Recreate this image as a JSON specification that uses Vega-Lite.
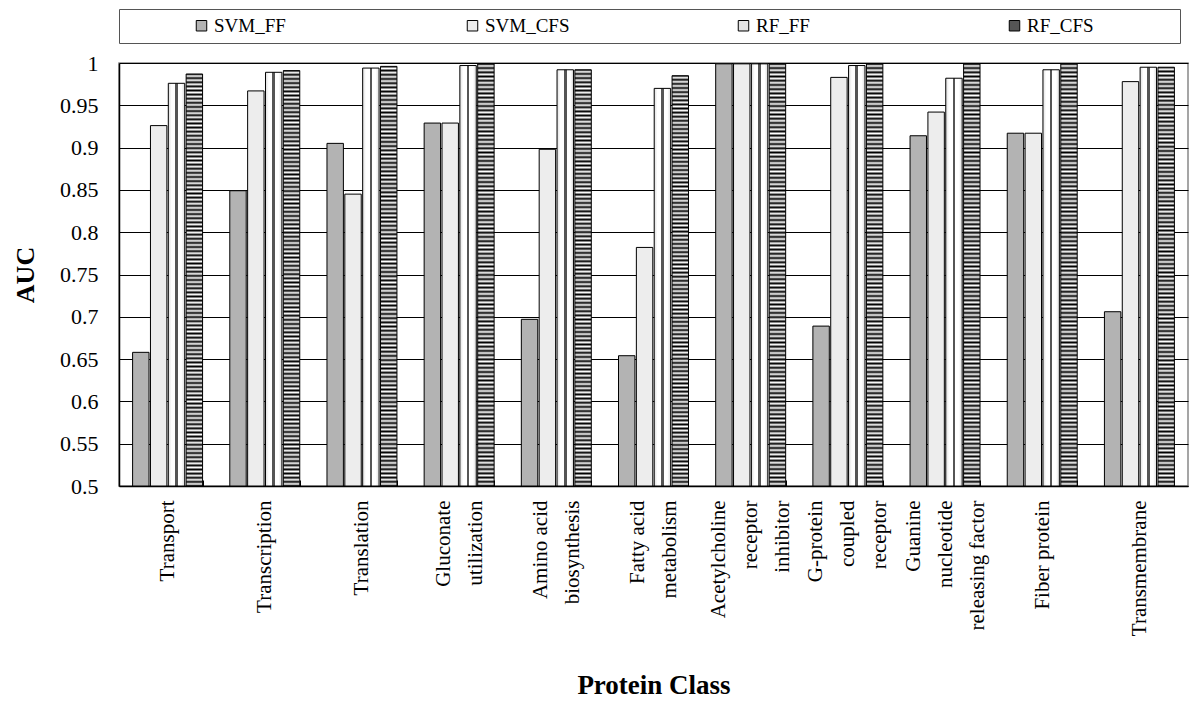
{
  "$schema": "https://vega.github.io/schema/vega-lite/v6.json",
  "width": 1069,
  "height": 423,
  "autosize": {"type": "none"},
  "padding": {"left": 119, "top": 63, "right": 12, "bottom": 219},
  "background": "white",
  "config": {
    "font": "Liberation Serif",
    "view": {"stroke": "#888888", "strokeWidth": 1.5}
  },
  "data": {
    "values": [
      {"cls": "Transport", "method": "SVM_FF", "auc": 0.658},
      {"cls": "Transport", "method": "SVM_CFS", "auc": 0.926},
      {"cls": "Transport", "method": "RF_FF", "auc": 0.976},
      {"cls": "Transport", "method": "RF_CFS", "auc": 0.987},
      {"cls": "Transcription", "method": "SVM_FF", "auc": 0.849},
      {"cls": "Transcription", "method": "SVM_CFS", "auc": 0.967},
      {"cls": "Transcription", "method": "RF_FF", "auc": 0.989},
      {"cls": "Transcription", "method": "RF_CFS", "auc": 0.991},
      {"cls": "Translation", "method": "SVM_FF", "auc": 0.905},
      {"cls": "Translation", "method": "SVM_CFS", "auc": 0.845},
      {"cls": "Translation", "method": "RF_FF", "auc": 0.994},
      {"cls": "Translation", "method": "RF_CFS", "auc": 0.996},
      {"cls": "Gluconate|utilization", "method": "SVM_FF", "auc": 0.929},
      {"cls": "Gluconate|utilization", "method": "SVM_CFS", "auc": 0.929},
      {"cls": "Gluconate|utilization", "method": "RF_FF", "auc": 0.997},
      {"cls": "Gluconate|utilization", "method": "RF_CFS", "auc": 0.999},
      {"cls": "Amino acid|biosynthesis", "method": "SVM_FF", "auc": 0.697},
      {"cls": "Amino acid|biosynthesis", "method": "SVM_CFS", "auc": 0.898},
      {"cls": "Amino acid|biosynthesis", "method": "RF_FF", "auc": 0.992},
      {"cls": "Amino acid|biosynthesis", "method": "RF_CFS", "auc": 0.992},
      {"cls": "Fatty acid|metabolism", "method": "SVM_FF", "auc": 0.654},
      {"cls": "Fatty acid|metabolism", "method": "SVM_CFS", "auc": 0.782},
      {"cls": "Fatty acid|metabolism", "method": "RF_FF", "auc": 0.970},
      {"cls": "Fatty acid|metabolism", "method": "RF_CFS", "auc": 0.985},
      {"cls": "Acetylcholine|receptor|inhibitor", "method": "SVM_FF", "auc": 0.999},
      {"cls": "Acetylcholine|receptor|inhibitor", "method": "SVM_CFS", "auc": 0.999},
      {"cls": "Acetylcholine|receptor|inhibitor", "method": "RF_FF", "auc": 0.999},
      {"cls": "Acetylcholine|receptor|inhibitor", "method": "RF_CFS", "auc": 0.999},
      {"cls": "G-protein|coupled|receptor", "method": "SVM_FF", "auc": 0.689},
      {"cls": "G-protein|coupled|receptor", "method": "SVM_CFS", "auc": 0.983},
      {"cls": "G-protein|coupled|receptor", "method": "RF_FF", "auc": 0.997},
      {"cls": "G-protein|coupled|receptor", "method": "RF_CFS", "auc": 0.999},
      {"cls": "Guanine|nucleotide|releasing factor", "method": "SVM_FF", "auc": 0.914},
      {"cls": "Guanine|nucleotide|releasing factor", "method": "SVM_CFS", "auc": 0.942},
      {"cls": "Guanine|nucleotide|releasing factor", "method": "RF_FF", "auc": 0.982},
      {"cls": "Guanine|nucleotide|releasing factor", "method": "RF_CFS", "auc": 0.999},
      {"cls": "Fiber protein", "method": "SVM_FF", "auc": 0.917},
      {"cls": "Fiber protein", "method": "SVM_CFS", "auc": 0.917},
      {"cls": "Fiber protein", "method": "RF_FF", "auc": 0.992},
      {"cls": "Fiber protein", "method": "RF_CFS", "auc": 0.999},
      {"cls": "Transmembrane", "method": "SVM_FF", "auc": 0.706},
      {"cls": "Transmembrane", "method": "SVM_CFS", "auc": 0.978},
      {"cls": "Transmembrane", "method": "RF_FF", "auc": 0.995},
      {"cls": "Transmembrane", "method": "RF_CFS", "auc": 0.995}
    ]
  },
  "mark": {"type": "bar", "stroke": "black", "strokeWidth": 1},
  "encoding": {
    "x": {
      "field": "cls",
      "type": "nominal",
      "sort": null,
      "scale": {"paddingInner": 0.28, "paddingOuter": 0.14},
      "axis": {
        "title": "Protein Class",
        "titleFontSize": 27,
        "titleFontWeight": "bold",
        "titleColor": "black",
        "titleY": 207,
        "titleBaseline": "alphabetic",
        "labelAngle": -90,
        "labelAlign": "right",
        "labelBaseline": "middle",
        "labelFontSize": 21,
        "labelColor": "black",
        "labelExpr": "split(datum.label, '|')",
        "labelLineHeight": 32,
        "labelLimit": 300,
        "labelPadding": 20,
        "labelOffset": {"expr": "-(length(split(datum.label, '|')) - 1) * 16"},
        "tickBand": "extent",
        "tickSize": -6,
        "tickColor": "black",
        "domainColor": "black",
        "domainWidth": 1.5
      }
    },
    "xOffset": {
      "field": "method",
      "type": "nominal",
      "sort": ["SVM_FF", "SVM_CFS", "RF_FF", "RF_CFS"],
      "scale": {"paddingInner": 0.08}
    },
    "y": {
      "field": "auc",
      "type": "quantitative",
      "scale": {"domain": [0.5, 1]},
      "axis": {
        "title": "AUC",
        "titleFontSize": 26,
        "titleFontWeight": "bold",
        "titleColor": "black",
        "titleAngle": -90,
        "titleX": -94,
        "titleY": 211.5,
        "titleAlign": "center",
        "titleBaseline": "middle",
        "values": [0.5, 0.55, 0.6, 0.65, 0.7, 0.75, 0.8, 0.85, 0.9, 0.95, 1],
        "format": ".2~f",
        "labelFontSize": 22,
        "labelColor": "black",
        "labelPadding": 21,
        "tickSize": 0,
        "domainColor": "black",
        "domainWidth": 1.5,
        "grid": true,
        "gridColor": "black",
        "gridWidth": 1
      }
    },
    "y2": {"datum": 0.5},
    "fill": {
      "condition": [
        {"test": "datum.method === 'RF_FF'", "value": {"gradient": "linear", "x1": 0, "y1": 0, "x2": 1, "y2": 0, "stops": [
          {"offset": 0, "color": "#dddddd"},
          {"offset": 0.2, "color": "#ffffff"},
          {"offset": 0.42, "color": "#ffffff"},
          {"offset": 0.42, "color": "#555555"},
          {"offset": 0.58, "color": "#555555"},
          {"offset": 0.58, "color": "#ffffff"},
          {"offset": 0.8, "color": "#ffffff"},
          {"offset": 1, "color": "#dddddd"}
        ]}},
        {"test": "datum.method === 'RF_CFS'", "value": {"gradient": "linear", "x1": 0, "y1": 0, "x2": 0, "y2": 1, "stops": [
            {"offset":0,"color":"#000"},{"offset":0.005,"color":"#fff"},{"offset":0.01,"color":"#000"},{"offset":0.015,"color":"#fff"},{"offset":0.02,"color":"#000"},{"offset":0.025,"color":"#fff"},{"offset":0.03,"color":"#000"},{"offset":0.035,"color":"#fff"},{"offset":0.04,"color":"#000"},{"offset":0.045,"color":"#fff"},
            {"offset":0.05,"color":"#000"},{"offset":0.055,"color":"#fff"},{"offset":0.06,"color":"#000"},{"offset":0.065,"color":"#fff"},{"offset":0.07,"color":"#000"},{"offset":0.075,"color":"#fff"},{"offset":0.08,"color":"#000"},{"offset":0.085,"color":"#fff"},{"offset":0.09,"color":"#000"},{"offset":0.095,"color":"#fff"},
            {"offset":0.1,"color":"#000"},{"offset":0.105,"color":"#fff"},{"offset":0.11,"color":"#000"},{"offset":0.115,"color":"#fff"},{"offset":0.12,"color":"#000"},{"offset":0.125,"color":"#fff"},{"offset":0.13,"color":"#000"},{"offset":0.135,"color":"#fff"},{"offset":0.14,"color":"#000"},{"offset":0.145,"color":"#fff"},
            {"offset":0.15,"color":"#000"},{"offset":0.155,"color":"#fff"},{"offset":0.16,"color":"#000"},{"offset":0.165,"color":"#fff"},{"offset":0.17,"color":"#000"},{"offset":0.175,"color":"#fff"},{"offset":0.18,"color":"#000"},{"offset":0.185,"color":"#fff"},{"offset":0.19,"color":"#000"},{"offset":0.195,"color":"#fff"},
            {"offset":0.2,"color":"#000"},{"offset":0.205,"color":"#fff"},{"offset":0.21,"color":"#000"},{"offset":0.215,"color":"#fff"},{"offset":0.22,"color":"#000"},{"offset":0.225,"color":"#fff"},{"offset":0.23,"color":"#000"},{"offset":0.235,"color":"#fff"},{"offset":0.24,"color":"#000"},{"offset":0.245,"color":"#fff"},
            {"offset":0.25,"color":"#000"},{"offset":0.255,"color":"#fff"},{"offset":0.26,"color":"#000"},{"offset":0.265,"color":"#fff"},{"offset":0.27,"color":"#000"},{"offset":0.275,"color":"#fff"},{"offset":0.28,"color":"#000"},{"offset":0.285,"color":"#fff"},{"offset":0.29,"color":"#000"},{"offset":0.295,"color":"#fff"},
            {"offset":0.3,"color":"#000"},{"offset":0.305,"color":"#fff"},{"offset":0.31,"color":"#000"},{"offset":0.315,"color":"#fff"},{"offset":0.32,"color":"#000"},{"offset":0.325,"color":"#fff"},{"offset":0.33,"color":"#000"},{"offset":0.335,"color":"#fff"},{"offset":0.34,"color":"#000"},{"offset":0.345,"color":"#fff"},
            {"offset":0.35,"color":"#000"},{"offset":0.355,"color":"#fff"},{"offset":0.36,"color":"#000"},{"offset":0.365,"color":"#fff"},{"offset":0.37,"color":"#000"},{"offset":0.375,"color":"#fff"},{"offset":0.38,"color":"#000"},{"offset":0.385,"color":"#fff"},{"offset":0.39,"color":"#000"},{"offset":0.395,"color":"#fff"},
            {"offset":0.4,"color":"#000"},{"offset":0.405,"color":"#fff"},{"offset":0.41,"color":"#000"},{"offset":0.415,"color":"#fff"},{"offset":0.42,"color":"#000"},{"offset":0.425,"color":"#fff"},{"offset":0.43,"color":"#000"},{"offset":0.435,"color":"#fff"},{"offset":0.44,"color":"#000"},{"offset":0.445,"color":"#fff"},
            {"offset":0.45,"color":"#000"},{"offset":0.455,"color":"#fff"},{"offset":0.46,"color":"#000"},{"offset":0.465,"color":"#fff"},{"offset":0.47,"color":"#000"},{"offset":0.475,"color":"#fff"},{"offset":0.48,"color":"#000"},{"offset":0.485,"color":"#fff"},{"offset":0.49,"color":"#000"},{"offset":0.495,"color":"#fff"},
            {"offset":0.5,"color":"#000"},{"offset":0.505,"color":"#fff"},{"offset":0.51,"color":"#000"},{"offset":0.515,"color":"#fff"},{"offset":0.52,"color":"#000"},{"offset":0.525,"color":"#fff"},{"offset":0.53,"color":"#000"},{"offset":0.535,"color":"#fff"},{"offset":0.54,"color":"#000"},{"offset":0.545,"color":"#fff"},
            {"offset":0.55,"color":"#000"},{"offset":0.555,"color":"#fff"},{"offset":0.56,"color":"#000"},{"offset":0.565,"color":"#fff"},{"offset":0.57,"color":"#000"},{"offset":0.575,"color":"#fff"},{"offset":0.58,"color":"#000"},{"offset":0.585,"color":"#fff"},{"offset":0.59,"color":"#000"},{"offset":0.595,"color":"#fff"},
            {"offset":0.6,"color":"#000"},{"offset":0.605,"color":"#fff"},{"offset":0.61,"color":"#000"},{"offset":0.615,"color":"#fff"},{"offset":0.62,"color":"#000"},{"offset":0.625,"color":"#fff"},{"offset":0.63,"color":"#000"},{"offset":0.635,"color":"#fff"},{"offset":0.64,"color":"#000"},{"offset":0.645,"color":"#fff"},
            {"offset":0.65,"color":"#000"},{"offset":0.655,"color":"#fff"},{"offset":0.66,"color":"#000"},{"offset":0.665,"color":"#fff"},{"offset":0.67,"color":"#000"},{"offset":0.675,"color":"#fff"},{"offset":0.68,"color":"#000"},{"offset":0.685,"color":"#fff"},{"offset":0.69,"color":"#000"},{"offset":0.695,"color":"#fff"},
            {"offset":0.7,"color":"#000"},{"offset":0.705,"color":"#fff"},{"offset":0.71,"color":"#000"},{"offset":0.715,"color":"#fff"},{"offset":0.72,"color":"#000"},{"offset":0.725,"color":"#fff"},{"offset":0.73,"color":"#000"},{"offset":0.735,"color":"#fff"},{"offset":0.74,"color":"#000"},{"offset":0.745,"color":"#fff"},
            {"offset":0.75,"color":"#000"},{"offset":0.755,"color":"#fff"},{"offset":0.76,"color":"#000"},{"offset":0.765,"color":"#fff"},{"offset":0.77,"color":"#000"},{"offset":0.775,"color":"#fff"},{"offset":0.78,"color":"#000"},{"offset":0.785,"color":"#fff"},{"offset":0.79,"color":"#000"},{"offset":0.795,"color":"#fff"},
            {"offset":0.8,"color":"#000"},{"offset":0.805,"color":"#fff"},{"offset":0.81,"color":"#000"},{"offset":0.815,"color":"#fff"},{"offset":0.82,"color":"#000"},{"offset":0.825,"color":"#fff"},{"offset":0.83,"color":"#000"},{"offset":0.835,"color":"#fff"},{"offset":0.84,"color":"#000"},{"offset":0.845,"color":"#fff"},
            {"offset":0.85,"color":"#000"},{"offset":0.855,"color":"#fff"},{"offset":0.86,"color":"#000"},{"offset":0.865,"color":"#fff"},{"offset":0.87,"color":"#000"},{"offset":0.875,"color":"#fff"},{"offset":0.88,"color":"#000"},{"offset":0.885,"color":"#fff"},{"offset":0.89,"color":"#000"},{"offset":0.895,"color":"#fff"},
            {"offset":0.9,"color":"#000"},{"offset":0.905,"color":"#fff"},{"offset":0.91,"color":"#000"},{"offset":0.915,"color":"#fff"},{"offset":0.92,"color":"#000"},{"offset":0.925,"color":"#fff"},{"offset":0.93,"color":"#000"},{"offset":0.935,"color":"#fff"},{"offset":0.94,"color":"#000"},{"offset":0.945,"color":"#fff"},
            {"offset":0.95,"color":"#000"},{"offset":0.955,"color":"#fff"},{"offset":0.96,"color":"#000"},{"offset":0.965,"color":"#fff"},{"offset":0.97,"color":"#000"},{"offset":0.975,"color":"#fff"},{"offset":0.98,"color":"#000"},{"offset":0.985,"color":"#fff"},{"offset":0.99,"color":"#000"},{"offset":0.995,"color":"#fff"},
            {"offset":1,"color":"#000"}
        ]}}
      ],
      "field": "method",
      "type": "nominal",
      "sort": ["SVM_FF", "SVM_CFS", "RF_FF", "RF_CFS"],
      "scale": {
        "domain": ["SVM_FF", "SVM_CFS", "RF_FF", "RF_CFS"],
        "range": ["#b3b3b3", "#ededed", "#e4e4e4", "#555555"]
      },
      "legend": {
        "orient": "top",
        "direction": "horizontal",
        "title": " ",
        "titleOrient": "right",
        "titlePadding": 79,
        "offset": 20,
        "padding": 7,
        "strokeColor": "#555555",
        "fillColor": "white",
        "symbolType": "square",
        "symbolSize": 110,
        "symbolStrokeColor": "black",
        "symbolStrokeWidth": 1,
        "symbolOpacity": 1,
        "symbolOffset": 66,
        "labelFontSize": 19,
        "labelColor": "black",
        "labelOffset": 3,
        "gridAlign": "all",
        "columnPadding": 98
      }
    }
  }
}
